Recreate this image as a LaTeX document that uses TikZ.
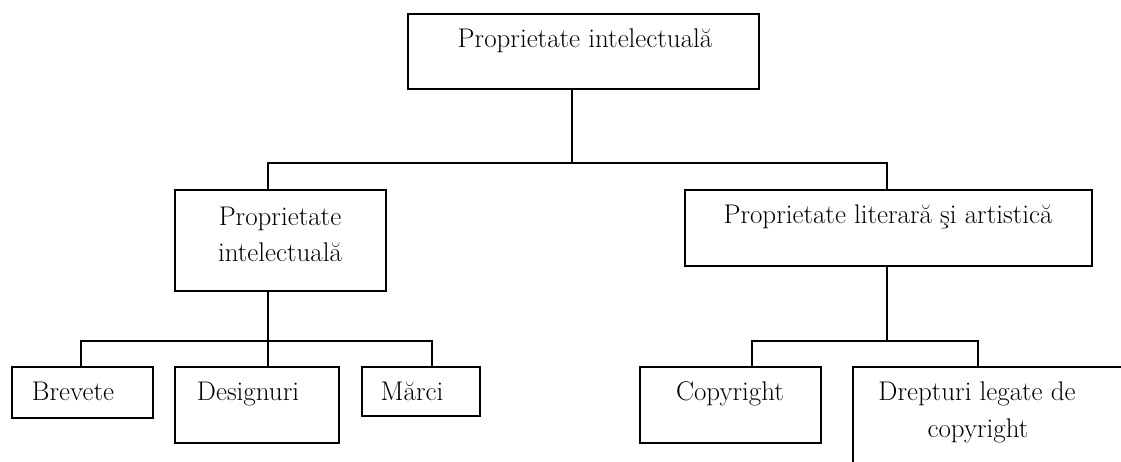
\documentclass[tikz,border=0pt]{standalone}
\usepackage{fontspec}
\begin{document}
\begin{tikzpicture}[x=1pt,y=-1pt,
  box/.style={draw, line width=1.8pt, inner sep=0pt, anchor=north west},
  lbl/.style={anchor=base, inner sep=0pt, font=\fontsize{27}{32}\selectfont},
  link/.style={line width=1.8pt}]
\useasboundingbox (0,0) rectangle (1121,461);
\clip (0,0) rectangle (1121,461);

% boxes, given by their upper left corner and size
\node[box, minimum width=351, minimum height=75] (top) at (407,13) {};
\node[box, minimum width=211, minimum height=101] (lm) at (174,189) {};
\node[box, minimum width=407, minimum height=76] (rm) at (684,189) {};
\node[box, minimum width=141, minimum height=51] (bre) at (11,366) {};
\node[box, minimum width=164, minimum height=76] (des) at (174,366) {};
\node[box, minimum width=118, minimum height=49] (mar) at (361,366) {};
\node[box, minimum width=181, minimum height=76] (cop) at (639,366) {};
\node[box, minimum width=320, minimum height=140] (dre) at (852,366) {};

% texts
\node[lbl] (ttop) at (585,47) {Proprietate intelectuală};
\node[lbl] (tlm1) at (280,225) {Proprietate};
\node[lbl] (tlm2) at (280,261) {intelectuală};
\node[lbl] (trm) at (888,223) {Proprietate literară şi artistică};
\node[lbl] (tbre) at (73,400) {Brevete};
\node[lbl] (tdes) at (248,400) {Designuri};
\node[lbl] (tmar) at (412,400) {Mărci};
\node[lbl] (tcop) at (730,400) {Copyright};
\node[lbl] (tdre1) at (977,400) {Drepturi legate de};
\node[lbl] (tdre2) at (978,437) {copyright};

% branch points
\coordinate (j1) at (572,163);
\coordinate (b1) at (268,163);
\coordinate (b2) at (887,163);
\coordinate (j2) at (268,341);
\coordinate (b3) at (81,341);
\coordinate (b4) at (432,341);
\coordinate (j3) at (887,341);
\coordinate (b5) at (752,341);
\coordinate (b6) at (978,341);

% connectors
\draw[link] (top.south -| j1) -- (j1);
\draw[link] (b1 |- lm.north) -- (b1) -- (b2) -- (b2 |- rm.north);
\draw[link] (lm.south -| j2) -- (j2 |- des.north);
\draw[link] (b3 |- bre.north) -- (b3) -- (b4) -- (b4 |- mar.north);
\draw[link] (rm.south -| j3) -- (j3);
\draw[link] (b5 |- cop.north) -- (b5) -- (b6) -- (b6 |- dre.north);
\end{tikzpicture}
\end{document}
